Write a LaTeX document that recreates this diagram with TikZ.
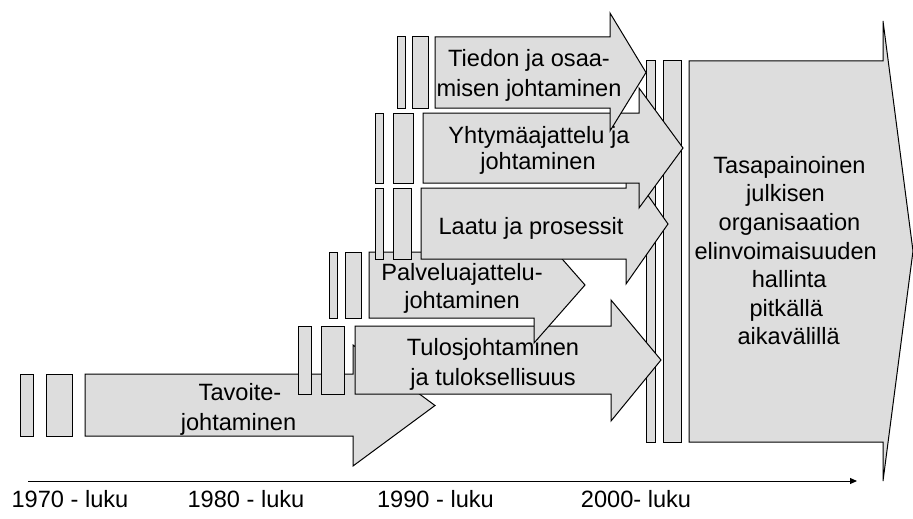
\documentclass[tikz,border=0pt]{standalone}
\usepackage{fontspec}
\setmainfont{Liberation Sans}
\usetikzlibrary{arrows.meta}
\definecolor{boxfill}{RGB}{221,221,221}
\tikzset{
  shapeline/.style={draw=black, fill=boxfill, line width=1pt, line join=miter},
  barbox/.style={shapeline},
  lbl/.style={anchor=base, inner sep=0pt, font=\fontsize{23.6}{28}\selectfont},
  axisline/.style={draw=black, line width=1pt, -{Triangle[length=7pt,width=6pt]}}
}
\begin{document}
\begin{tikzpicture}[x=1pt, y=-1pt]
\useasboundingbox (0,0) rectangle (913,519);

% bars in front of the final arrow
\draw[barbox] (646,61) rectangle (655,442);
\draw[barbox] (663,61) rectangle (681,442);

% final arrow
\draw[shapeline] (689,61) -- (883,61) -- (883,21) -- (913,251) -- (883,481) -- (883,442) -- (689,442) -- cycle;
\node[lbl] (f1) at (789.5,173.3) {Tasapainoinen};
\node[lbl] (f2) at (785.5,201.9) {julkisen};
\node[lbl] (f3) at (789.5,230.5) {organisaation};
\node[lbl] (f4) at (785.7,259.1) {elinvoimaisuuden};
\node[lbl] (f5) at (789.2,287.7) {hallinta};
\node[lbl] (f6) at (786.3,316.3) {pitkällä};
\node[lbl] (f7) at (788.7,344.9) {aikavälillä};

% Tavoitejohtaminen
\draw[shapeline] (85,374) -- (353,374) -- (353,345) -- (435,405.5) -- (353,466) -- (353,436) -- (85,436) -- cycle;
\draw[barbox] (20,374) rectangle (33,436);
\draw[barbox] (46,374) rectangle (72,436);
\node[lbl] (tav1) at (240,400) {Tavoite-};
\node[lbl] (tav2) at (238.5,430) {johtaminen};

% Tulosjohtaminen
\draw[shapeline] (355,326) -- (611,326) -- (611,300) -- (661,360) -- (611,421) -- (611,394) -- (355,394) -- cycle;
\draw[barbox] (298,326) rectangle (311,394);
\draw[barbox] (321,326) rectangle (344,394);
\node[lbl] (tul1) at (493,355) {Tulosjohtaminen};
\node[lbl] (tul2) at (493,385) {ja tuloksellisuus};

% Palveluajattelu
\draw[shapeline] (369,252) -- (534,252) -- (534,227) -- (585,285) -- (534,343) -- (534,318) -- (369,318) -- cycle;
\draw[barbox] (329,252) rectangle (337,318);
\draw[barbox] (345,252) rectangle (361,318);
\node[lbl] (pal1) at (462,280) {Palveluajattelu-};
\node[lbl] (pal2) at (462,308.3) {johtaminen};

% Laatu ja prosessit
\draw[shapeline] (421,188) -- (626,188) -- (626,164) -- (668,224) -- (626,284) -- (626,259) -- (421,259) -- cycle;
\draw[barbox] (375,188) rectangle (383,259);
\draw[barbox] (393,188) rectangle (411,259);
\node[lbl] (laa1) at (531,234) {Laatu ja prosessit};

% Yhtymäajattelu
\draw[shapeline] (423,113) -- (639,113) -- (639,88) -- (683,148) -- (639,208) -- (639,183) -- (423,183) -- cycle;
\draw[barbox] (375,113) rectangle (383,183);
\draw[barbox] (393,113) rectangle (413,183);
\node[lbl] (yht1) at (539,143) {Yhtymäajattelu ja};
\node[lbl] (yht2) at (538,169) {johtaminen};

% Tiedon ja osaamisen johtaminen
\draw[shapeline] (435,37) -- (610,37) -- (610,13) -- (646,72.5) -- (610,131) -- (610,108) -- (435,108) -- cycle;
\draw[barbox] (397,37) rectangle (405,108);
\draw[barbox] (412,37) rectangle (428,108);
\node[lbl] (tie1) at (529,66.7) {Tiedon ja osaa-};
\node[lbl] (tie2) at (529,96.7) {misen johtaminen};

% time axis
\coordinate (axstart) at (28,481);
\coordinate (axend) at (857,481);
\draw[axisline] (axstart) -- (axend);
\node[lbl] (y1970) at (70,507.5) {1970 - luku};
\node[lbl] (y1980) at (246,507.5) {1980 - luku};
\node[lbl] (y1990) at (435.5,507.5) {1990 - luku};
\node[lbl] (y2000) at (636,507.5) {2000- luku};
\end{tikzpicture}
\end{document}
